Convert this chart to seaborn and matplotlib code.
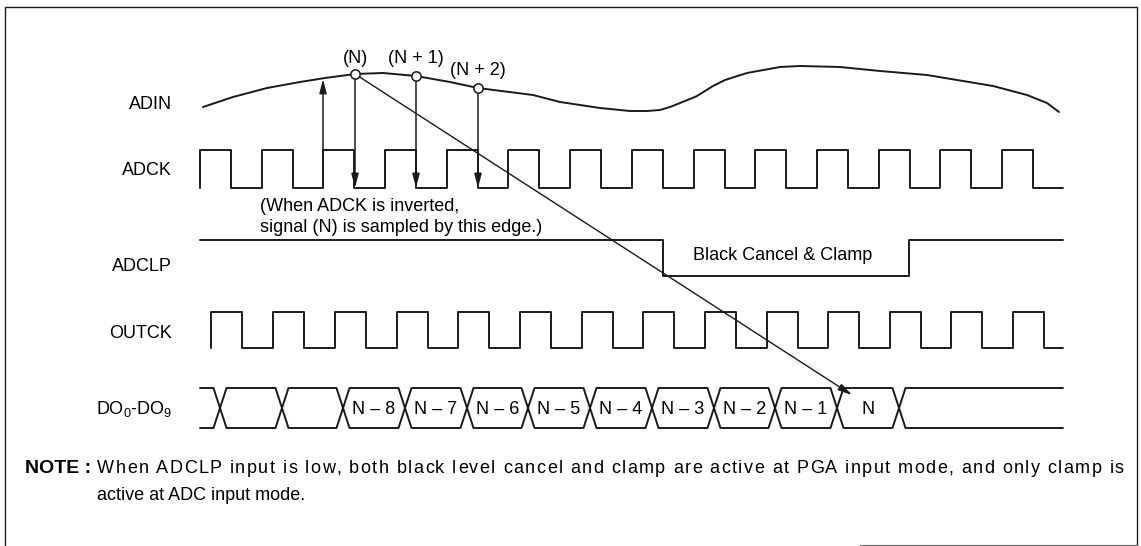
import matplotlib
matplotlib.use('Agg')
import matplotlib.pyplot as plt
import seaborn as sns

# signal names at the left and their baselines
signal_names = ['ADIN', 'ADCK', 'ADCLP', 'OUTCK', r'DO$_\mathregular{0}$-DO$_\mathregular{9}$']
name_baselines = [109, 175, 271, 338, 414]

# ADIN analog input
adin_x = [203, 233, 267, 300, 325, 355, 383, 416, 450, 478, 533, 560, 600, 630, 647, 660, 670,
          680, 690, 697, 705, 713, 725, 747, 780, 800, 840, 880, 927, 993, 1027, 1047, 1059]
adin_y = [107, 97, 88, 82, 78, 74, 73, 76, 82, 88, 95, 102, 108, 111, 111, 110, 107,
          103, 99, 96, 91, 86, 80, 73, 67, 66, 67, 71, 75, 86, 95, 103, 112]

# sampled points on ADIN
sample_x = [355, 416, 478]
sample_y = [74, 76, 88]
sample_labels = ['(N)', '(N + 1)', '(N + 2)']

# clock rising edges
adck_rise = [200, 262, 323, 385, 447, 508, 570, 632, 694, 755, 817, 879, 940, 1002]
outck_rise = [211, 273, 335, 397, 458, 520, 582, 643, 705, 767, 828, 890, 951, 1013]
clock_high = 31

# ADCLP low period (fall, rise)
adclp_low = [663, 909]

# output data crossings and cell labels
do_cross = [220, 282, 343, 405, 467, 528, 590, 652, 714, 775, 837, 899]
do_labels = ['', '', 'N – 8', 'N – 7', 'N – 6', 'N – 5', 'N – 4', 'N – 3', 'N – 2', 'N – 1', 'N']

note_line1 = ('When ADCLP input is low, both black level cancel and clamp are active at PGA input mode, '
              'and only clamp is')
note_line2 = 'active at ADC input mode.'

t_start, t_end = 200, 1063

sns.set_theme(style='white')
plt.rcParams['font.family'] = ['Liberation Sans', 'DejaVu Sans']
plt.rcParams['text.color'] = 'black'

fig = plt.figure(figsize=(11.41, 5.46), dpi=100)
ax = fig.add_axes([0, 0, 1, 1])
ax.set_xlim(0, 1141)
ax.set_ylim(546, 0)
ax.axis('off')

fs = 13
lw = 1.4


def wave(xs, ys, width=lw):
    sns.lineplot(x=xs, y=ys, ax=ax, color='k', lw=width, sort=False, estimator=None)


def clock(rises, hi, lo):
    xs, ys = [rises[0]], [lo]
    for r in rises:
        xs += [r, r, r + clock_high, r + clock_high]
        ys += [lo, hi, hi, lo]
    xs.append(t_end)
    ys.append(lo)
    return xs, ys


# frame
ax.plot([5, 5, 1137, 1137], [546, 7, 7, 546], color='k', lw=1.0)
ax.plot([860, 1137], [545, 545], color='0.4', lw=0.8)

# names
for name, yb in zip(signal_names, name_baselines):
    ax.text(172, yb, name, ha='right', va='baseline', fontsize=fs)

# ADIN
wave(adin_x, adin_y)

# ADCK
xs, ys = clock(adck_rise, 150, 188)
wave(xs, ys)

# ADCLP
wave([t_start, adclp_low[0], adclp_low[0], adclp_low[1], adclp_low[1], t_end],
     [240, 240, 276, 276, 240, 240])
ax.text(adclp_low[0] + 30, 260, 'Black Cancel & Clamp', ha='left', va='baseline', fontsize=fs)

# OUTCK
xs, ys = clock(outck_rise, 312, 348)
wave(xs, ys)

# DO bus
top, bot, mid, hw = 388, 428, 408, 6.5
for edge in (top, bot):
    xs, ys = [t_start], [edge]
    for c in do_cross:
        xs += [c - hw, c, c + hw]
        ys += [edge, mid, edge]
    xs.append(t_end)
    ys.append(edge)
    wave(xs, ys)
for i, lab in enumerate(do_labels):
    if lab:
        ax.text((do_cross[i] + do_cross[i + 1]) / 2, 414, lab, ha='center', va='baseline', fontsize=fs)

# sampling arrows
head = '-|>,head_length=0.7,head_width=0.18'
ax.annotate('', xy=(adck_rise[2], 79), xytext=(adck_rise[2], 150),
            arrowprops=dict(arrowstyle=head, color='k', lw=1.1, shrinkA=0, shrinkB=0))
for sx, sy in zip(sample_x, sample_y):
    ax.annotate('', xy=(sx, 188), xytext=(sx, sy + 4),
                arrowprops=dict(arrowstyle=head, color='k', lw=1.1, shrinkA=0, shrinkB=0))

# diagonal from (N) to output N
ax.annotate('', xy=(852, 395), xytext=(sample_x[0], sample_y[0]),
            arrowprops=dict(arrowstyle=head, color='k', lw=1.0, shrinkA=0, shrinkB=0))

sns.scatterplot(x=sample_x, y=sample_y, ax=ax, s=45, color='white', edgecolor='k', linewidth=1.1, zorder=5)
label_base = [63, 63, 75]
for sx, yb, lab in zip(sample_x, label_base, sample_labels):
    ax.text(sx, yb, lab, ha='center', va='baseline', fontsize=fs)

ax.text(260, 211, '(When ADCK is inverted,', ha='left', va='baseline', fontsize=fs)
ax.text(260, 232, 'signal (N) is sampled by this edge.)', ha='left', va='baseline', fontsize=fs)

# note; first line is justified between x=97 and x=1124 by spreading the letters
note_fs = 13
ax.text(91, 473, 'NOTE :', ha='right', va='baseline', fontsize=fs + 1, fontweight='bold')
renderer = fig.canvas.get_renderer()


def text_width(s):
    t = ax.text(0, 0, s, fontsize=note_fs)
    w = t.get_window_extent(renderer).width
    t.remove()
    return w


space_w = text_width('x x') - text_width('xx')
char_w = [space_w if c == ' ' else text_width(c) for c in note_line1]
track = (1124 - 97 - sum(char_w)) / (len(note_line1) - 1)
x = 97
for c, w in zip(note_line1, char_w):
    if c != ' ':
        ax.text(x, 473, c, ha='left', va='baseline', fontsize=note_fs)
    x += w + track
ax.text(97, 500, note_line2, ha='left', va='baseline', fontsize=note_fs)

fig.savefig('out.png', dpi=100)
